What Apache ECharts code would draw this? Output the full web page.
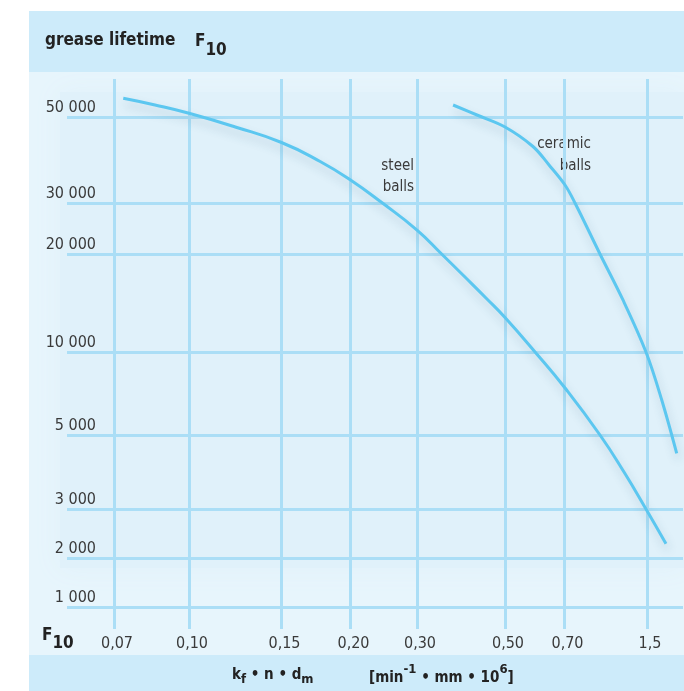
<!DOCTYPE html>
<html>
<head>
<meta charset="utf-8">
<script src="https://cdn.jsdelivr.net/npm/echarts@6/dist/echarts.min.js"></script>
<style>
  html, body { margin: 0; padding: 0; background: #fff; }
  #chart { width: 684px; height: 691px; }
</style>
</head>
<body>
<div id="chart"></div>
<script>
// tick values and their printed labels
const xTicks = [0.07, 0.10, 0.15, 0.20, 0.30, 0.50, 0.70, 1.5];
const xTickLabels = ['0,07', '0,10', '0,15', '0,20', '0,30', '0,50', '0,70', '1,5'];
const yTicks = [1000, 2000, 3000, 5000, 10000, 20000, 30000, 50000];
const yTickLabels = ['1 000', '2 000', '3 000', '5 000', '10 000', '20 000', '30 000', '50 000'];

// the diagram uses a hand-drawn scale: where each tick sits along its axis
const xScalePos = [47, 122, 214.5, 283.5, 350, 438, 497.5, 580];
const xScaleMax = 616;
const yScalePos = [22, 71, 120, 194, 277, 375, 426, 512];
const yScaleMax = 550;

// steel balls: kf*n*dm -> F10
const steelX = [0.0737, 0.0864, 0.10, 0.125, 0.15, 0.178, 0.20, 0.247, 0.30, 0.356, 0.409, 0.459, 0.50, 0.601, 0.705, 1.044, 1.277, 1.49, 1.684];
const steelF10 = [54350, 52790, 50860, 47680, 44070, 39650, 35350, 30100, 24700, 20000, 17650, 15410, 13520, 10000, 7830, 5000, 4000, 3000, 2290];

// ceramic balls
const ceramicX = [0.382, 0.439, 0.50, 0.594, 0.648, 0.705, 0.802, 1.044, 1.267, 1.49, 1.643, 1.788];
const ceramicF10 = [52790, 50350, 47680, 43140, 38840, 34190, 30000, 20000, 15310, 10000, 7110, 4506];

// piecewise linear mapping value -> scale position (extrapolates at both ends)
function toScale(v, ticks, pos) {
    let i = 0;
    while (i < ticks.length - 2 && v > ticks[i + 1]) i++;
    const t = (v - ticks[i]) / (ticks[i + 1] - ticks[i]);
    return pos[i] + t * (pos[i + 1] - pos[i]);
}

function curve(xs, ys) {
    return xs.map((x, i) => [toScale(x, xTicks, xScalePos), toScale(ys[i], yTicks, yScalePos)]);
}

const cond = "'DejaVu Sans Condensed', 'Liberation Sans Narrow', sans-serif";
const gridColor = '#abdef6';
const lineColor = '#5cc7f0';
const textColor = '#3a3a3a';
const darkText = '#222';

var myChart = echarts.init(document.getElementById('chart'));

function lineSeries(name, data, smooth) {
    return {
        name: name,
        type: 'line',
        data: data,
        smooth: smooth,
        showSymbol: false,
        silent: true,
        z: 5,
        lineStyle: {
            color: lineColor,
            width: 3,
            shadowColor: 'rgba(40, 90, 120, 0.22)',
            shadowBlur: 10,
            shadowOffsetX: 2,
            shadowOffsetY: 6
        }
    };
}

// bold rich text: b = base at line top, s = lowered (subscript),
// r = base at line bottom, p = raised (superscript)
function boldRich(size, smallSize, shift) {
    const lh = size + 2;
    return {
        b: { fontFamily: cond, fontWeight: 'bold', fontSize: size, lineHeight: lh, verticalAlign: 'top' },
        s: { fontFamily: cond, fontWeight: 'bold', fontSize: smallSize, lineHeight: lh + 2 * shift, verticalAlign: 'bottom' },
        r: { fontFamily: cond, fontWeight: 'bold', fontSize: size, lineHeight: lh + 2 * shift, verticalAlign: 'bottom' },
        p: { fontFamily: cond, fontWeight: 'bold', fontSize: smallSize, lineHeight: lh, verticalAlign: 'top' }
    };
}

var option = {
    animation: false,
    backgroundColor: '#ffffff',
    grid: { left: 67, right: 1, top: 79, bottom: 62 },
    xAxis: {
        type: 'value',
        min: 0,
        max: xScaleMax,
        axisLine: { show: false },
        axisTick: { show: false, customValues: xScalePos },
        splitLine: { show: true, lineStyle: { color: gridColor, width: 3 } },
        axisLabel: {
            customValues: xScalePos,
            margin: 7,
            fontFamily: cond,
            fontSize: 16,
            color: textColor,
            padding: [0, 0, 0, 6],
            formatter: function (v) {
                const i = xScalePos.indexOf(v);
                return i >= 0 ? xTickLabels[i] : '';
            }
        }
    },
    yAxis: {
        type: 'value',
        min: 0,
        max: yScaleMax,
        axisLine: { show: false },
        axisTick: { show: false, customValues: yScalePos },
        splitLine: { show: true, lineStyle: { color: gridColor, width: 3 } },
        axisLabel: {
            customValues: yScalePos,
            inside: true,
            margin: 29,
            align: 'right',
            verticalAlign: 'bottom',
            lineHeight: 16,
            padding: [0, 0, 1, 0],
            fontFamily: cond,
            fontSize: 16,
            color: textColor,
            formatter: function (v) {
                const i = yScalePos.indexOf(v);
                return i >= 0 ? yTickLabels[i] : '';
            }
        }
    },
    graphic: [
        // panel
        { type: 'rect', z: -10, shape: { x: 29, y: 11, width: 655, height: 680 }, style: { fill: '#e7f5fc' } },
        { type: 'rect', z: -9, shape: { x: 60, y: 92, width: 624, height: 476 },
          style: { fill: '#e0f1fa', shadowColor: '#e0f1fa', shadowBlur: 24 } },
        { type: 'rect', z: -8, shape: { x: 29, y: 11, width: 655, height: 61 }, style: { fill: '#cdebfa' } },
        { type: 'rect', z: -8, shape: { x: 29, y: 655, width: 655, height: 36 }, style: { fill: '#cdebfa' } },
        // header
        { type: 'text', x: 45, y: 41, style: {
            text: 'grease lifetime', fontFamily: cond, fontWeight: 'bold', fontSize: 17,
            fill: darkText, verticalAlign: 'middle' } },
        { type: 'text', x: 195, y: 33, style: {
            text: '{b|F}{s|10}', fill: darkText, rich: boldRich(17, 17, 3.5) } },
        // axis corner label
        { type: 'text', x: 42, y: 627, style: {
            text: '{b|F}{s|10}', fill: darkText, rich: boldRich(17, 17, 3) } },
        // x axis title
        { type: 'text', x: 232, y: 668, style: {
            text: '{b|k}{s|f}{b| • n • d}{s|m}', fill: darkText, rich: boldRich(15, 13, 0.5) } },
        { type: 'text', x: 369, y: 663, style: {
            text: '{r|[min}{p|-1}{r| • mm • 10}{p|6}{r|]}', fill: darkText, rich: boldRich(15, 13, 3) } },
        // curve labels
        { type: 'text', x: 414, y: 156, style: {
            text: 'steel\nballs', align: 'right', fontFamily: cond, fontSize: 15,
            lineHeight: 21, fill: textColor } },
        { type: 'text', x: 591, y: 133, style: {
            text: 'ceramic\nballs', align: 'right', fontFamily: cond, fontSize: 15,
            lineHeight: 22, fill: textColor } }
    ],
    series: [
        lineSeries('steel balls', curve(steelX, steelF10), 0.5),
        lineSeries('ceramic balls', curve(ceramicX, ceramicF10), 0.35)
    ]
};

option && myChart.setOption(option);
</script>
</body>
</html>
